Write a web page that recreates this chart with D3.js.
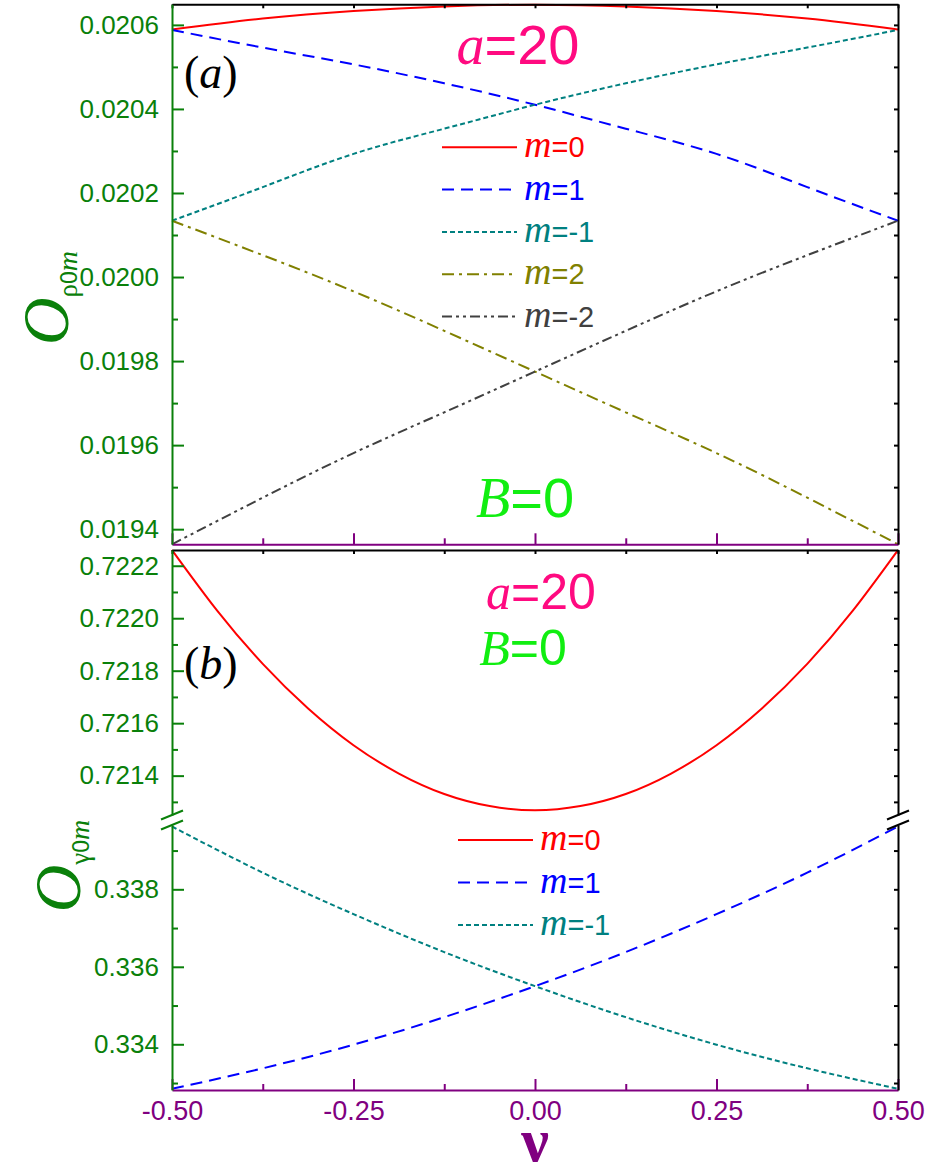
<!DOCTYPE html>
<html>
<head>
<meta charset="utf-8">
<script src="https://cdnjs.cloudflare.com/ajax/libs/d3/7.8.5/d3.min.js"></script>
<style>
  body { margin: 0; background: #fff; }
</style>
</head>
<body>
<div id="chart"></div>
<script>
// nu grid
var nu = [-0.5, -0.375, -0.25, -0.125, 0, 0.125, 0.25, 0.375, 0.5];
var nuFine = [-0.5, -0.4375, -0.375, -0.3125, -0.25, -0.1875, -0.125, -0.0625, 0,
              0.0625, 0.125, 0.1875, 0.25, 0.3125, 0.375, 0.4375, 0.5];

// panel (a) : O_rho0m
var rhoM0  = [0.020589, 0.020615, 0.020633, 0.020644, 0.020648, 0.020644, 0.020633, 0.020615, 0.020589];
var rhoM1  = [0.020588, 0.020546, 0.020506, 0.020461, 0.020410, 0.020353, 0.020293, 0.020214, 0.020134];
var rhoMm1 = [0.020134, 0.020214, 0.020293, 0.020353, 0.020410, 0.020461, 0.020506, 0.020546, 0.020588];
var rhoM2  = [0.020134, 0.020052, 0.019966, 0.019872, 0.019775, 0.019678, 0.019581, 0.019475, 0.019364];
var rhoMm2 = [0.019364, 0.019475, 0.019581, 0.019678, 0.019775, 0.019872, 0.019966, 0.020052, 0.020134];

// panel (b) : O_gamma0m (upper part of the broken axis)
var gamM0 = [0.722260, 0.722028, 0.721826, 0.721656, 0.721516, 0.721408, 0.721330, 0.721284, 0.721268,
             0.721284, 0.721330, 0.721408, 0.721516, 0.721656, 0.721826, 0.722028, 0.722260];
// lower part of the broken axis
var gamM1  = [0.33285, 0.33338, 0.33399, 0.33470, 0.33550, 0.33638, 0.33736, 0.33843, 0.339621];
var gamMm1 = [0.339621, 0.33843, 0.33736, 0.33638, 0.33550, 0.33470, 0.33399, 0.33338, 0.33285];

// ticks
var nuTicks = [-0.5, -0.25, 0, 0.25, 0.5];
var nuLabels = ["-0.50", "-0.25", "0.00", "0.25", "0.50"];
var nuMinor = [-0.375, -0.125, 0.125, 0.375];
var rhoTicks = [0.0194, 0.0196, 0.0198, 0.0200, 0.0202, 0.0204, 0.0206];
var rhoLabels = ["0.0194", "0.0196", "0.0198", "0.0200", "0.0202", "0.0204", "0.0206"];
var rhoMinor = [0.0195, 0.0197, 0.0199, 0.0201, 0.0203, 0.0205];
var gamHiTicks = [0.7214, 0.7216, 0.7218, 0.7220, 0.7222];
var gamHiLabels = ["0.7214", "0.7216", "0.7218", "0.7220", "0.7222"];
var gamHiMinor = [0.7213, 0.7215, 0.7217, 0.7219, 0.7221];
var gamLoTicks = [0.334, 0.336, 0.338];
var gamLoLabels = ["0.334", "0.336", "0.338"];
var gamLoMinor = [0.333, 0.335, 0.337, 0.339];

var legendA = ["0", "1", "-1", "2", "-2"];
var legendB = ["0", "1", "-1"];

var W = 930, H = 1175;
var x0 = 172, x1 = 898;
var green = "#0a800a", purple = "#800080";
var sans = '"Liberation Sans", Arial, sans-serif';
var serif = '"Liberation Serif", "Times New Roman", serif';

var svg = d3.select("#chart").append("svg")
    .attr("width", W).attr("height", H)
    .style("font-family", sans);

var x = d3.scaleLinear().domain([-0.5, 0.5]).range([x0, x1]);
var yA = d3.scaleLinear().domain([0.019364, 0.020649]).range([544.3, 4.3]);
var yBhi = d3.scaleLinear().domain([0.72125, 0.72226]).range([815, 550]);
var yBlo = d3.scaleLinear().domain([0.33282, 0.33966]).range([1090, 825]);

var styles = {
    "0":  { color: "#ff0000", dash: null },
    "1":  { color: "#0000ff", dash: "12,7" },
    "-1": { color: "#008080", dash: "5,3" },
    "2":  { color: "#808000", dash: "12,5,3,5" },
    "-2": { color: "#404040", dash: "10,4,3,4,3,4" }
};

function drawLine(xs, ys, scale, key) {
    var pts = xs.map(function(d, i) { return [d, ys[i]]; });
    svg.append("path")
        .datum(pts)
        .attr("fill", "none")
        .attr("stroke", styles[key].color)
        .attr("stroke-width", 2)
        .attr("stroke-dasharray", styles[key].dash)
        .attr("d", d3.line()
            .x(function(d) { return x(d[0]); })
            .y(function(d) { return scale(d[1]); })
            .curve(d3.curveNatural));
}

// lines
drawLine(nu, rhoM0, yA, "0");
drawLine(nu, rhoM1, yA, "1");
drawLine(nu, rhoMm1, yA, "-1");
drawLine(nu, rhoM2, yA, "2");
drawLine(nu, rhoMm2, yA, "-2");
drawLine(nuFine, gamM0, yBhi, "0");
drawLine(nu, gamM1, yBlo, "1");
drawLine(nu, gamMm1, yBlo, "-1");

function styleAxis(g, color) {
    g.selectAll("path, line").attr("stroke", color).attr("stroke-width", 2);
    g.selectAll("text").attr("fill", color);
}

// left (green) + right (black) axes for one y-scale
function yAxes(scale, major, minor, labels) {
    var gl = svg.append("g").attr("transform", "translate(" + x0 + ",0)");
    gl.call(d3.axisLeft(scale).tickValues(major)
        .tickFormat(function(d, i) { return labels[i]; })
        .tickSizeInner(-12).tickSizeOuter(0).tickPadding(13));
    var gm = gl.append("g").call(d3.axisLeft(scale).tickValues(minor)
        .tickFormat("").tickSizeInner(-6).tickSizeOuter(0));
    gm.select(".domain").remove();
    gl.selectAll("text").attr("font-size", 26).style("font-family", sans);
    styleAxis(gl, green);

    var gr = svg.append("g").attr("transform", "translate(" + x1 + ",0)");
    gr.call(d3.axisRight(scale).tickValues(major.concat(minor))
        .tickFormat("").tickSizeInner(-4).tickSizeOuter(0));
    styleAxis(gr, "#000");
}

function xAxes(yTop, yBot, withLabels) {
    var gt = svg.append("g").attr("transform", "translate(0," + yTop + ")");
    gt.call(d3.axisTop(x).tickValues(nuTicks.concat(nuMinor))
        .tickFormat("").tickSizeInner(-4).tickSizeOuter(0));
    styleAxis(gt, "#000");

    var gb = svg.append("g").attr("transform", "translate(0," + yBot + ")");
    gb.call(d3.axisBottom(x).tickValues(nuTicks)
        .tickFormat(function(d, i) { return withLabels ? nuLabels[i] : ""; })
        .tickSizeInner(-11).tickSizeOuter(0).tickPadding(11));
    var gm = gb.append("g").call(d3.axisBottom(x).tickValues(nuMinor)
        .tickFormat("").tickSizeInner(-6).tickSizeOuter(0));
    gm.select(".domain").remove();
    gb.selectAll("text").attr("font-size", 27).style("font-family", sans);
    styleAxis(gb, purple);
}

xAxes(4.3, 544.3, false);
xAxes(550, 1090, true);
yAxes(yA, rhoTicks, rhoMinor, rhoLabels);
yAxes(yBhi, gamHiTicks, gamHiMinor, gamHiLabels);
yAxes(yBlo, gamLoTicks, gamLoMinor, gamLoLabels);

// axis break marks
[[x0, green], [x1, "#000"]].forEach(function(b) {
    [815, 825].forEach(function(yy) {
        svg.append("line")
            .attr("x1", b[0] - 11).attr("y1", yy + 4.5)
            .attr("x2", b[0] + 11).attr("y2", yy - 4.5)
            .attr("stroke", b[1]).attr("stroke-width", 2);
    });
});

// legends
function legend(keys, lx, ly, step) {
    keys.forEach(function(k, i) {
        var yy = ly + i * step;
        svg.append("line")
            .attr("x1", lx).attr("x2", lx + 75)
            .attr("y1", yy).attr("y2", yy)
            .attr("stroke", styles[k].color)
            .attr("stroke-width", 2)
            .attr("stroke-dasharray", styles[k].dash);
        var t = svg.append("text")
            .attr("x", lx + 82).attr("y", yy + 10)
            .attr("fill", styles[k].color);
        t.append("tspan").style("font-family", serif).style("font-style", "italic")
            .attr("font-size", 38).text("m");
        t.append("tspan").style("font-family", sans).attr("font-size", 29).text("=" + k);
    });
}
legend(legendA, 442, 147.3, 42.3);
legend(legendB, 458, 840, 42.5);

// annotations
function mathLabel(cx, by, letter, rest, color, size) {
    var t = svg.append("text").attr("x", cx).attr("y", by)
        .attr("text-anchor", "middle").attr("fill", color);
    t.append("tspan").style("font-family", serif).style("font-style", "italic")
        .attr("font-size", size).text(letter);
    t.append("tspan").style("font-family", sans).attr("font-size", size).text(rest);
}
mathLabel(518, 64, "a", "=20", "#ff0a80", 56);
mathLabel(525, 517, "B", "=0", "#11ee11", 56);
mathLabel(541, 609, "a", "=20", "#ff0a80", 50);
mathLabel(523, 665, "B", "=0", "#11ee11", 50);

function panelTag(px, py, letter) {
    var t = svg.append("text").attr("x", px).attr("y", py)
        .style("font-family", serif).attr("font-size", 46).attr("fill", "#000");
    t.append("tspan").text("(");
    t.append("tspan").style("font-style", "italic").text(letter);
    t.append("tspan").text(")");
}
panelTag(184, 88, "a");
panelTag(184, 679, "b");

// y titles
function yTitle(tx, ty, greek) {
    var t = svg.append("text")
        .attr("transform", "translate(" + tx + "," + ty + ") rotate(-90)")
        .attr("text-anchor", "middle").attr("fill", green);
    t.append("tspan").style("font-family", serif).style("font-style", "italic")
        .attr("font-size", 66).text("O");
    t.append("tspan").style("font-family", serif).attr("font-size", 27)
        .attr("dy", 9).text(greek);
    t.append("tspan").style("font-family", sans).attr("font-size", 23).text("0");
    t.append("tspan").style("font-family", serif).style("font-style", "italic")
        .attr("font-size", 28).text("m");
}
yTitle(68, 298, "\u03C1");
yTitle(80, 866, "\u03B3");

// x title
svg.append("text")
    .attr("x", (x0 + x1) / 2).attr("y", 1161)
    .attr("text-anchor", "middle")
    .style("font-family", serif).attr("font-weight", "bold")
    .attr("font-size", 62).attr("fill", purple)
    .text("\u03BD");
</script>
</body>
</html>
